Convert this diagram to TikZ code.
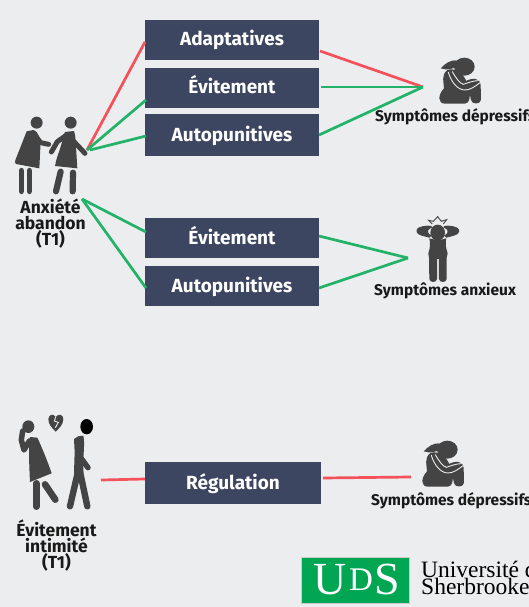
\documentclass[tikz,border=0pt]{standalone}
\usepackage{fontspec}
\setmainfont{Fira Sans}
\newfontfamily\logofont{Liberation Serif}
\definecolor{bgc}{HTML}{ECEDEF}
\definecolor{boxc}{HTML}{3D4660}
\definecolor{redc}{HTML}{F4515A}
\definecolor{greenc}{HTML}{22B268}
\definecolor{iconc}{HTML}{444444}
\definecolor{udsc}{HTML}{00A651}
\tikzset{
  boxn/.style={fill=boxc,text=white,font=\fontsize{19}{22}\selectfont\bfseries,anchor=center,inner sep=0pt,text height=14pt,text depth=2pt},
  lab/.style={text=black!90,font=\fontsize{15.5}{16}\selectfont\bfseries,align=center,inner sep=0pt},
  labl/.style={lab,font=\fontsize{17.5}{16}\selectfont\bfseries},
  redl/.style={draw=redc,line width=2.7pt},
  greenl/.style={draw=greenc,line width=2.7pt},
  ic/.style={fill=iconc,draw=none},
  limb/.style={draw=iconc,line cap=round,line join=round},
  cut/.style={draw=bgc,line width=0.9pt,line cap=round},
  logot/.style={text=black,font=\logofont\fontsize{23.5}{22}\selectfont,inner sep=0pt,anchor=base west},
  logol/.style={text=white,font=\logofont\fontsize{46}{46}\selectfont,inner sep=0pt,anchor=base}
}
% sitting figure, given in 3x local pixels
\newcommand{\sadfigure}[2]{%
\begin{scope}[shift={(#1,#2)},x=0.3333pt,y=-0.3333pt]
  \fill[ic] (283,80) ellipse (31 and 27);
  \fill[ic] (262,62) .. controls (240,58) and (225,72) .. (212,85) .. controls (232,92) and (250,87) .. (262,78) -- cycle;
  \fill[ic] (232,90) .. controls (212,105) and (222,130) .. (222,145) .. controls (203,165) and (203,191) .. (225,191)
     -- (285,191) .. controls (300,190) and (300,170) .. (300,150) -- (290,125) .. controls (280,100) and (255,82) .. (232,90) -- cycle;
  \fill[ic] (285,125) .. controls (308,110) and (333,116) .. (332,135) -- (333,180) .. controls (331,194) and (305,194) .. (303,180) -- (297,150) -- cycle;
  \draw[cut] (235,97) .. controls (245,130) and (265,150) .. (285,150) .. controls (300,150) and (315,140) .. (330,128);
  \draw[cut] (247,95) .. controls (258,115) and (270,130) .. (280,133) .. controls (295,128) and (310,122) .. (325,122);
\end{scope}}
\begin{document}
\begin{tikzpicture}[x=1pt,y=-1pt]
\useasboundingbox (0,0) rectangle (529,607);
\clip (0,0) rectangle (529,607);
\fill[bgc] (0,0) rectangle (529,607);

% boxes
\node[boxn,minimum width=174pt,minimum height=40pt] (adapt) at (232,40) {Adaptatives};
\node[boxn,minimum width=174pt,minimum height=40pt] (evita) at (232,88) {Évitement};
\node[boxn,minimum width=174pt,minimum height=42pt] (autoa) at (232,135) {Autopunitives};
\node[boxn,minimum width=174pt,minimum height=40pt] (evitb) at (232,238) {Évitement};
\node[boxn,minimum width=174pt,minimum height=40pt] (autob) at (232,286) {Autopunitives};
\node[boxn,minimum width=176pt,minimum height=42pt] (regul) at (233,483) {Régulation};

% free connector ends
\coordinate (anxr) at (87,150);
\coordinate (anxg) at (90,150);
\coordinate (anxb) at (82,199);
\coordinate (depa) at (423,87);
\coordinate (anxi) at (408,258);
\coordinate (evir) at (101,480);
\coordinate (depb) at (411,477);
\coordinate (p1) at (145,42);
\coordinate (p2) at (146,100);
\coordinate (p3) at (146,136);
\coordinate (p4) at (146,232);
\coordinate (p5) at (146,288);
\coordinate (q1) at (320,51);
\coordinate (q2) at (321,87);
\coordinate (q3) at (319,135);
\coordinate (q4) at (319,236);
\coordinate (q5) at (319,288);
\coordinate (r1) at (145,479);
\coordinate (r2) at (323,478);

\draw[redl] (anxr) -- (p1);
\draw[greenl] (anxr) -- (p2);
\draw[greenl] (anxg) -- (p3);
\draw[greenl] (anxb) -- (p4);
\draw[greenl] (anxb) -- (p5);
\draw[redl] (q1) -- (depa);
\draw[greenl] (q2) -- (depa);
\draw[greenl] (q3) -- (depa);
\draw[greenl] (q4) -- (anxi);
\draw[greenl] (q5) -- (anxi);
\draw[redl] (evir) -- (r1);
\draw[redl] (r2) -- (depb);

% labels
\node[labl] (lanx) at (50.5,224) {Anxiété\\abandon\\(T1)};
\node[lab,anchor=west] (ldepa) at (375,117) {Symptômes dépressifs};
\node[lab,anchor=west] (lanxi) at (374,291) {Symptômes anxieux};
\node[labl] (levi) at (56.5,546) {Évitement\\intimité\\(T1)};
\node[lab,anchor=west] (ldepb) at (371,501) {Symptômes dépressifs};

% couple
\begin{scope}[shift={(0,100)},x=0.3333pt,y=-0.3333pt]
  \fill[ic] (110,68) circle (18);
  \fill[ic] (212,68) circle (18);
  \fill[ic] (80,94) -- (100,90) .. controls (112,92) and (118,110) .. (122,125) -- (118,205) -- (48,192) .. controls (44,188) and (44,185) .. (47,178) -- cycle;
  \draw[limb,line width=5pt] (102,102) -- (122,128) -- (146,133);
  \draw[limb,line width=5.6pt] (64,212) -- (64,274);
  \draw[limb,line width=5.6pt] (88,212) -- (88,274);
  \fill[ic] (195,96) -- (222,93) .. controls (228,110) and (226,125) .. (228,140) -- (232,205) -- (165,198) .. controls (170,170) and (180,150) .. (182,140) -- cycle;
  \draw[limb,line width=5pt] (200,105) -- (172,125) -- (154,156);
  \draw[limb,line width=5pt] (222,125) -- (255,160);
  \draw[limb,line width=6.2pt] (182,215) -- (168,274);
  \draw[limb,line width=6.2pt] (219,218) -- (218,274);
\end{scope}

% sitting figures
\sadfigure{370}{40}
\sadfigure{353}{423}

% anxious figure
\begin{scope}[shift={(370,205)},x=0.3333pt,y=-0.3333pt]
  \draw[draw=iconc,line width=0.9pt,line join=miter] (187,57) -- (176,46) -- (190,49) -- (203,35) -- (214,49) -- (230,44) -- (220,57);
  \fill[ic] (203,83) ellipse (22 and 24);
  \fill[ic] (145,68) .. controls (160,60) and (190,60) .. (187,67) -- (178,72) .. controls (170,78) and (175,88) .. (185,92) -- (178,98) -- (155,92) .. controls (138,88) and (135,75) .. (145,68) -- cycle;
  \fill[ic] (262,68) .. controls (247,60) and (217,60) .. (220,67) -- (229,72) .. controls (237,78) and (232,88) .. (222,92) -- (229,98) -- (252,92) .. controls (269,88) and (272,75) .. (262,68) -- cycle;
  \fill[ic] (178,100) .. controls (195,106) and (212,106) .. (229,100) .. controls (225,115) and (228,130) .. (233,145) -- (230,158) -- (230,222) .. controls (229,234) and (208,234) .. (207,222) -- (207,162) -- (201,162) -- (201,222) .. controls (200,234) and (179,234) .. (178,222) -- (177,158) -- (175,145) .. controls (180,130) and (182,115) .. (178,100) -- cycle;
\end{scope}

% avoidant pair
\begin{scope}[shift={(0,405)},x=0.3333pt,y=-0.3333pt]
  \fill[ic] (85,65) ellipse (18 and 19);
  \draw[limb,line width=5.5pt] (68,78) -- (64,105) -- (72,135) -- (88,108);
  \fill[ic] (90,96) -- (112,98) .. controls (125,125) and (145,175) .. (155,205) -- (90,231) .. controls (88,190) and (85,130) .. (90,96) -- cycle;
  \draw[limb,line width=6.6pt] (109,235) -- (109,305);
  \draw[limb,line width=6.6pt] (135,238) -- (166,284);
  % heart
  \fill[ic] (167,80) .. controls (155,68) and (145,58) .. (145,42) .. controls (147,27) and (160,25) .. (167,36) .. controls (175,25) and (190,28) .. (190,42) .. controls (190,58) and (178,70) .. (167,80) -- cycle;
  \draw[draw=bgc,line width=0.9pt] (167,36) -- (163,48) -- (175,52) -- (166,68);
  % man
  \fill[black] (260,65) ellipse (19 and 23);
  \fill[ic] (222,102) .. controls (230,95) and (240,90) .. (250,92) .. controls (255,115) and (250,145) .. (250,165) -- (250,205) -- (222,205) -- (224,140) -- cycle;
  \draw[limb,line width=6.4pt] (234,200) -- (210,304);
  \draw[limb,line width=6.4pt] (240,200) -- (262,304);
  \draw[limb,line width=5.5pt] (243,125) -- (240,155) -- (264,188);
\end{scope}

% logo
\node[fill=udsc,draw=black!20,line width=0.4pt,minimum width=108pt,minimum height=46pt,inner sep=0pt] (uds) at (355,580) {};
\node[logol] (udsa) at (330,594) {U};
\node[logol,font=\logofont\fontsize{33}{33}\selectfont] (udsb) at (361,590) {D};
\node[logol] (udsc2) at (387,594) {S};
\node[logot] (logoa) at (421,577) {Université de};
\node[logot] (logob) at (421,594) {Sherbrooke};
\end{tikzpicture}
\end{document}
